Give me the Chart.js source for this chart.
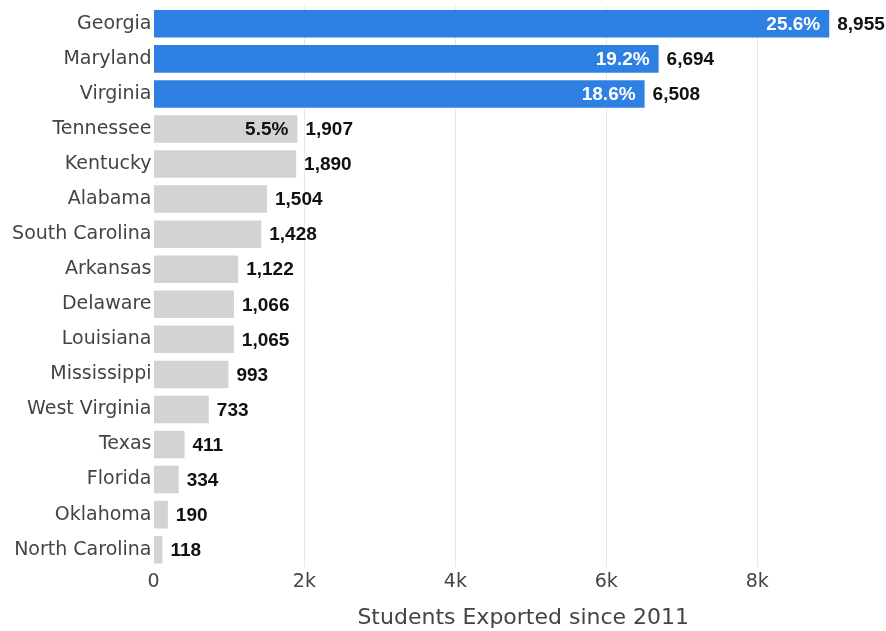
<!DOCTYPE html>
<html>
<head>
<meta charset="utf-8">
<title>Students Exported since 2011</title>
<script src="https://cdn.jsdelivr.net/npm/chart.js@4/dist/chart.umd.min.js"></script>
<style>
  html, body { margin: 0; padding: 0; background: #fff; overflow: hidden; }
</style>
</head>
<body>
<canvas id="exportChart" width="893" height="631"></canvas>
<script>
const states = ['Georgia', 'Maryland', 'Virginia', 'Tennessee', 'Kentucky', 'Alabama', 'South Carolina', 'Arkansas',
  'Delaware', 'Louisiana', 'Mississippi', 'West Virginia', 'Texas', 'Florida', 'Oklahoma', 'North Carolina'];
const students = [8955, 6694, 6508, 1907, 1890, 1504, 1428, 1122, 1066, 1065, 993, 733, 411, 334, 190, 118];
// share of the total, only shown for the biggest ones
const shares = [25.6, 19.2, 18.6, 5.5, null, null, null, null, null, null, null, null, null, null, null, null];
const highlighted = ['Georgia', 'Maryland', 'Virginia'];
const xTicks = [0, 2000, 4000, 6000, 8000];

const BLUE = '#2f80e3';
const GREY = '#d3d3d3';

const barLabels = {
  id: 'barLabels',
  afterDatasetsDraw(chart) {
    const ctx = chart.ctx;
    const meta = chart.getDatasetMeta(0);
    ctx.save();
    ctx.font = 'bold 19px "Liberation Sans", Arial, sans-serif';
    ctx.textBaseline = 'middle';
    meta.data.forEach((bar, i) => {
      ctx.textAlign = 'left';
      ctx.fillStyle = '#111';
      ctx.fillText(students[i].toLocaleString('en-US'), bar.x + 8, bar.y + 1);
      if (shares[i] != null) {
        ctx.textAlign = 'right';
        ctx.fillStyle = highlighted.includes(states[i]) ? '#fff' : '#111';
        ctx.fillText(shares[i].toFixed(1) + '%', bar.x - 9, bar.y + 1);
      }
    });
    ctx.restore();
  }
};

new Chart(document.getElementById('exportChart'), {
  type: 'bar',
  data: {
    labels: states,
    datasets: [{
      data: students,
      backgroundColor: states.map(s => highlighted.includes(s) ? BLUE : GREY),
      barPercentage: 0.785,
      categoryPercentage: 1
    }]
  },
  options: {
    indexAxis: 'y',
    responsive: false,
    animation: false,
    layout: { padding: { top: 6.3, right: 0, bottom: 0, left: 0 } },
    plugins: { legend: { display: false }, tooltip: { enabled: false } },
    scales: {
      x: {
        min: 0,
        max: 9800,
        afterBuildTicks: scale => { scale.ticks = xTicks.map(v => ({ value: v })); },
        afterFit: scale => { scale.height = 63.8; },
        grid: {
          drawTicks: false,
          color: c => c.tick && c.tick.value === 0 ? 'rgba(0,0,0,0)' : '#e8e8e8'
        },
        border: { display: false },
        ticks: {
          padding: 3,
          color: '#444',
          font: { family: '"DejaVu Sans", Verdana, sans-serif', size: 19 },
          callback: v => v === 0 ? '0' : (v / 1000) + 'k'
        },
        title: {
          display: true,
          text: 'Students Exported since 2011',
          color: '#444',
          font: { family: '"DejaVu Sans", Verdana, sans-serif', size: 22 },
          padding: { top: 0, bottom: 0 }
        }
      },
      y: {
        afterFit: scale => {
          scale.width = 153.5;
          // the labels sit inside the bands, no extra room needed above/below
          scale.paddingTop = 0;
          scale.paddingBottom = 0;
        },
        grid: { display: false, drawTicks: false },
        border: { display: false },
        ticks: {
          padding: 2,
          color: '#444',
          font: { family: '"DejaVu Sans", Verdana, sans-serif', size: 19 }
        }
      }
    }
  },
  plugins: [barLabels]
});
</script>
</body>
</html>
